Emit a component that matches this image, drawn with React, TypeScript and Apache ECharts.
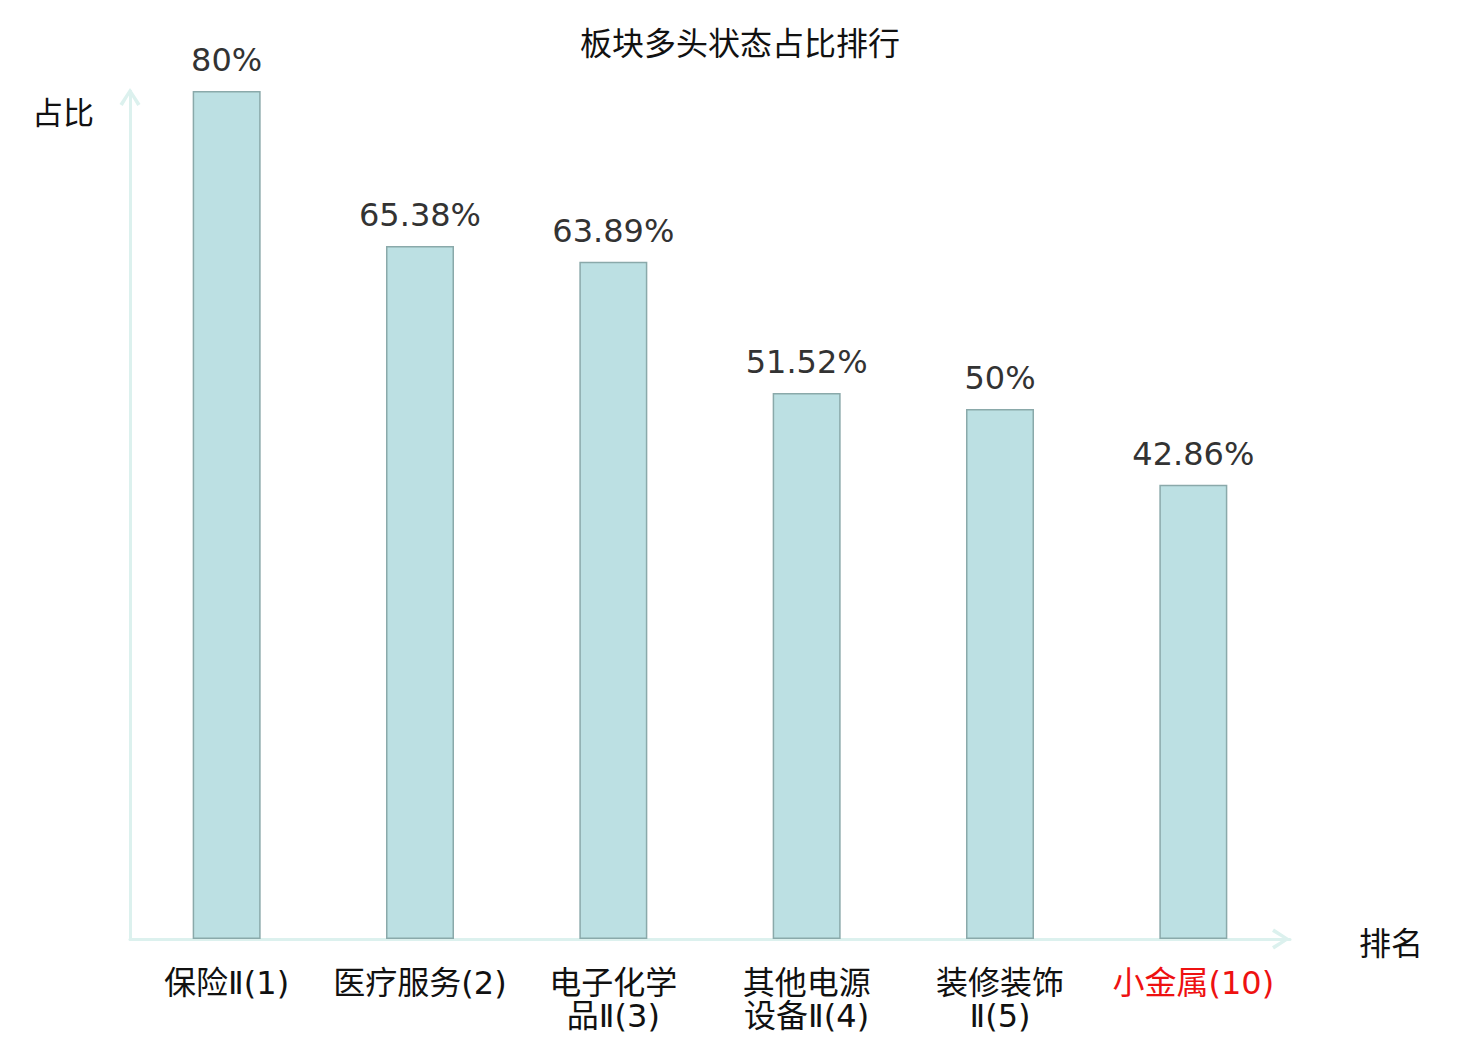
import React, { useEffect, useRef } from "react";
import * as echarts from "echarts";

const categories = [
  "保险Ⅱ(1)",
  "医疗服务(2)",
  "电子化学\n品Ⅱ(3)",
  "其他电源\n设备Ⅱ(4)",
  "装修装饰\nⅡ(5)",
  "小金属(10)",
];
const highlightIndex = 5;
const values = [80, 65.38, 63.89, 51.52, 50, 42.86];
const titleText = "板块多头状态占比排行";
const yName = "占比";
const xName = "排名";

const CJK = "'Noto Sans CJK SC', 'DejaVu Sans', sans-serif";
const MIX = "'DejaVu Sans', 'Noto Sans CJK SC', sans-serif";
const NUM = "'DejaVu Sans', sans-serif";
const axisColor = "#dcf1ee";
const chevron = "path://M0,16 L10.5,0 L21,16 L17.8,18 L10.5,5.8 L3.2,18 Z";

export default function App() {
  const ref = useRef<HTMLDivElement>(null);
  useEffect(() => {
    if (!ref.current) return;
    const chart = echarts.init(ref.current, undefined, { renderer: "svg" });
    chart.setOption({
      animation: false,
      backgroundColor: "#ffffff",
      title: {
        text: titleText,
        left: "center",
        top: 25,
        padding: 0,
        textStyle: { fontFamily: CJK, fontSize: 32, fontWeight: "normal", color: "#111111" },
      },
      grid: { left: 130, right: 190, top: 91, bottom: 101, containLabel: false },
      xAxis: {
        type: "category",
        data: categories.map((c, i) =>
          i === highlightIndex ? { value: c, textStyle: { color: "#ee1111" } } : c
        ),
        axisLine: {
          show: true,
          symbol: ["none", chevron],
          symbolSize: [21, 18],
          symbolOffset: [0, -9],
          lineStyle: { color: axisColor, width: 3 },
        },
        axisTick: { show: false },
        axisLabel: {
          interval: 0,
          margin: 27,
          fontFamily: MIX,
          fontSize: 32,
          lineHeight: 33,
          color: "#111111",
        },
        splitLine: { show: false },
      },
      yAxis: {
        type: "value",
        min: 0,
        max: 80,
        axisLine: {
          show: true,
          symbol: ["none", chevron],
          symbolSize: [21, 18],
          symbolOffset: [0, -6],
          lineStyle: { color: axisColor, width: 3 },
        },
        axisTick: { show: false },
        axisLabel: { show: false },
        splitLine: { show: false },
      },
      graphic: [
        {
          type: "text",
          x: 63,
          y: 110,
          style: {
            text: yName,
            fontFamily: CJK,
            fontSize: 31,
            fill: "#111111",
            align: "center",
            verticalAlign: "middle",
          },
        },
        {
          type: "text",
          x: 1391,
          y: 941,
          style: {
            text: xName,
            fontFamily: CJK,
            fontSize: 32,
            fill: "#111111",
            align: "center",
            verticalAlign: "middle",
          },
        },
      ],
      series: [
        {
          type: "bar",
          data: values,
          barWidth: 68,
          itemStyle: { color: "#bce0e3", borderColor: "#8aa9aa", borderWidth: 1.5 },
          label: {
            show: true,
            position: "top",
            distance: 15,
            fontFamily: NUM,
            fontSize: 32,
            color: "#333333",
            formatter: (p: any) => `${p.value}%`,
          },
        },
      ],
    });
    return () => chart.dispose();
  }, []);
  return (
    <div
      ref={ref}
      style={{ position: "fixed", left: 0, top: 0, width: 1480, height: 1040, background: "#fff" }}
    />
  );
}
